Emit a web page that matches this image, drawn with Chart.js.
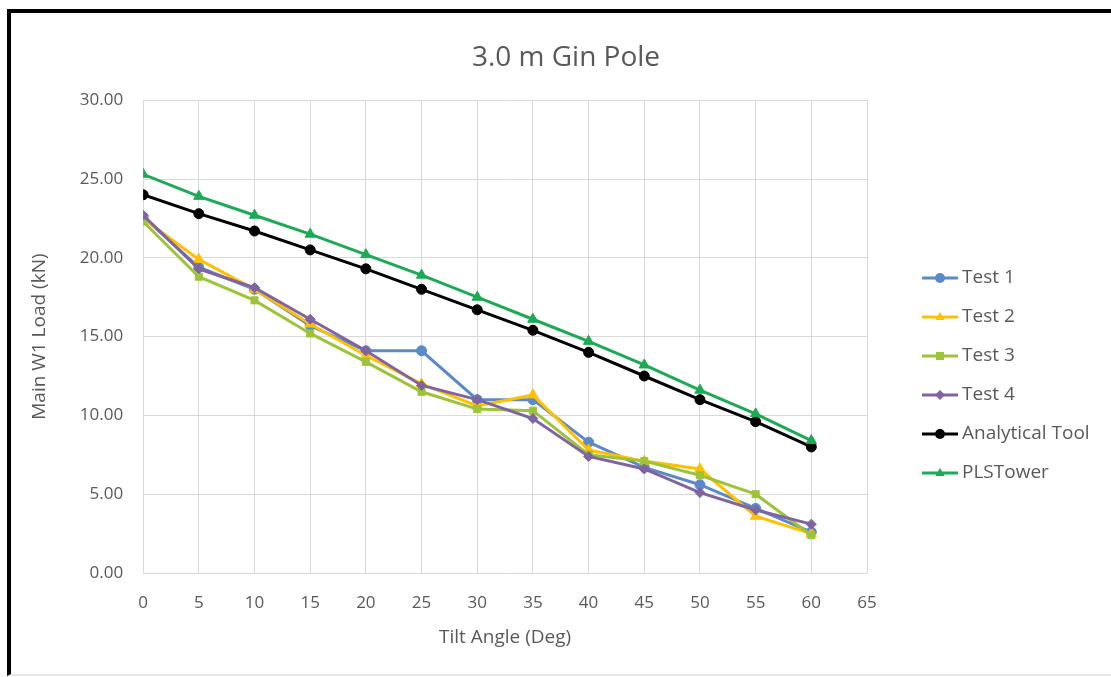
<!DOCTYPE html>
<html>
<head>
<meta charset="utf-8">
<script src="https://cdn.jsdelivr.net/npm/chart.js@4"></script>
<style>
  html, body { margin: 0; padding: 0; background: #fff; overflow: hidden; }
  #wrap { position: relative; width: 1111px; height: 677px; }
  #frame { position: absolute; left: 7px; top: 9px; width: 1120px; height: 661px;
           border-top: 4px solid #000; border-left: 4px solid #000; border-bottom: 2px solid #e6e6e6; }
  canvas { position: absolute; left: 0; top: 0; }
</style>
</head>
<body>
<div id="wrap">
  <div id="frame"></div>
  <canvas id="c" width="1111" height="677"></canvas>
</div>
<script>
const angles = [0, 5, 10, 15, 20, 25, 30, 35, 40, 45, 50, 55, 60];
const test1 = [22.6, 19.4, 18.0, 15.7, 14.1, 14.1, 11.0, 11.0, 8.3, 6.7, 5.6, 4.1, 2.6];
const test2 = [22.5, 19.9, 18.0, 15.8, 13.8, 12.0, 10.6, 11.3, 7.8, 7.1, 6.6, 3.6, 2.5];
const test3 = [22.3, 18.8, 17.3, 15.2, 13.4, 11.5, 10.4, 10.3, 7.5, 7.1, 6.2, 5.0, 2.4];
const test4 = [22.7, 19.3, 18.1, 16.1, 14.1, 11.9, 11.0, 9.8, 7.4, 6.6, 5.1, 4.0, 3.1];
const analytical = [24.0, 22.8, 21.7, 20.5, 19.3, 18.0, 16.7, 15.4, 14.0, 12.5, 11.0, 9.6, 8.0];
const plsTower = [25.3, 23.9, 22.7, 21.5, 20.2, 18.9, 17.5, 16.1, 14.7, 13.2, 11.6, 10.1, 8.4];
const seriesNames = ['Test 1', 'Test 2', 'Test 3', 'Test 4', 'Analytical Tool', 'PLSTower'];
const seriesData = [test1, test2, test3, test4, analytical, plsTower];
const seriesColors = ['#5A8AC9', '#FFC000', '#9DC33B', '#8064A2', '#000000', '#1DAA54'];
const seriesMarkers = ['circle', 'triangle', 'rect', 'rectRot', 'circle', 'triangle'];
const xTitle = 'Tilt Angle (Deg)';
const yTitle = 'Main W1 Load (kN)';
const chartTitle = '3.0 m Gin Pole';

const FONT = '"Open Sans", Lato, sans-serif';
const TEXT = '#595959';

const datasets = seriesNames.map((name, i) => ({
  label: name,
  data: angles.map((a, j) => ({ x: a, y: seriesData[i][j] })),
  borderColor: seriesColors[i],
  backgroundColor: seriesColors[i],
  pointBackgroundColor: seriesColors[i],
  pointBorderColor: seriesColors[i],
  pointStyle: seriesMarkers[i],
  pointRadius: seriesMarkers[i] === 'triangle' ? 6 : 5,
  pointBorderWidth: 1,
  borderWidth: 3,
  tension: 0,
  fill: false,
  order: seriesNames.length - i
}));

function drawMarker(ctx, style, x, y, r) {
  ctx.beginPath();
  if (style === 'circle') {
    ctx.arc(x, y, r, 0, Math.PI * 2);
  } else if (style === 'triangle') {
    ctx.moveTo(x, y - r);
    ctx.lineTo(x + r * 0.95, y + r * 0.6);
    ctx.lineTo(x - r * 0.95, y + r * 0.6);
    ctx.closePath();
  } else if (style === 'rect') {
    ctx.rect(x - r * 0.8, y - r * 0.8, r * 1.6, r * 1.6);
  } else if (style === 'rectRot') {
    ctx.moveTo(x, y - r); ctx.lineTo(x + r, y); ctx.lineTo(x, y + r); ctx.lineTo(x - r, y);
    ctx.closePath();
  }
  ctx.fill();
}

const customLegend = {
  id: 'customLegend',
  afterDraw(chart) {
    const ctx = chart.ctx;
    const x0 = 922, y0 = 278, gap = 39;
    ctx.save();
    chart.data.datasets.forEach((ds, i) => {
      const y = y0 + i * gap;
      ctx.strokeStyle = ds.borderColor;
      ctx.lineWidth = 3;
      ctx.beginPath();
      ctx.moveTo(x0, y); ctx.lineTo(x0 + 36, y);
      ctx.stroke();
      ctx.fillStyle = ds.borderColor;
      drawMarker(ctx, ds.pointStyle, x0 + 18, y, 5);
      ctx.fillStyle = TEXT;
      ctx.font = '19px ' + FONT;
      ctx.textBaseline = 'middle';
      ctx.textAlign = 'left';
      ctx.fillText(ds.label, x0 + 40, y);
    });
    ctx.restore();
  }
};

new Chart(document.getElementById('c'), {
  type: 'line',
  data: { datasets },
  plugins: [customLegend],
  options: {
    responsive: false,
    animation: false,
    layout: { padding: { left: 21, right: 0, top: 20, bottom: 28.5 } },
    plugins: {
      legend: { display: false },
      tooltip: { enabled: false },
      title: {
        display: true, text: chartTitle, color: TEXT,
        font: { family: FONT, size: 28, weight: 'normal' },
        padding: { top: 20.8, bottom: 25.8 }
      }
    },
    scales: {
      x: {
        type: 'linear', min: 0, max: 65,
        ticks: { stepSize: 5, color: TEXT, font: { family: FONT, size: 17 }, padding: 20 },
        grid: { color: '#D9D9D9', drawTicks: false },
        border: { color: '#D9D9D9' },
        title: { display: true, text: xTitle, color: TEXT, font: { family: FONT, size: 19 }, padding: { top: -7.7, bottom: 0 } }
      },
      y: {
        type: 'linear', min: 0, max: 30,
        ticks: { stepSize: 5, color: TEXT, font: { family: FONT, size: 17 }, padding: 20,
                 callback: v => Number(v).toFixed(2) },
        grid: { color: '#D9D9D9', drawTicks: false },
        border: { color: '#D9D9D9' },
        title: { display: true, text: yTitle, color: TEXT, font: { family: FONT, size: 19 }, padding: { top: 7.6, bottom: 8.4 } }
      },
      yPad: {
        type: 'linear', position: 'right', display: true,
        ticks: { display: false }, grid: { display: false }, border: { display: false },
        afterFit(scale) { scale.width = 244; }
      }
    }
  }
});
</script>
</body>
</html>
